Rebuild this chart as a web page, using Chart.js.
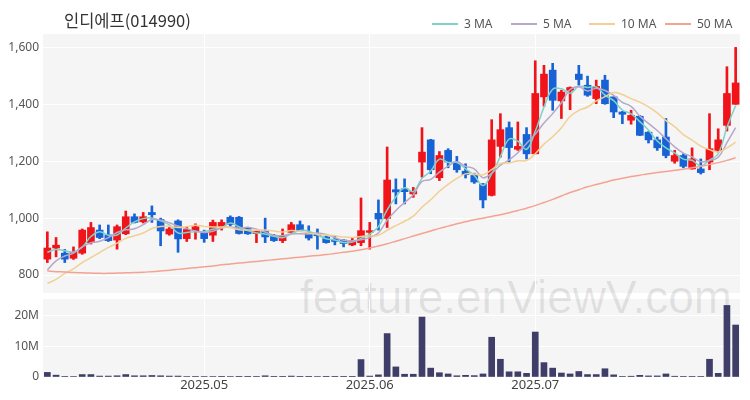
<!DOCTYPE html>
<html><head><meta charset="utf-8">
<script src="https://cdn.jsdelivr.net/npm/chart.js@4.4.1/dist/chart.umd.min.js"></script>
<style>
html,body{margin:0;padding:0;background:#fff;}
#wrap{position:relative;width:750px;height:400px;overflow:hidden;font-family:"Noto Sans CJK KR","Noto Sans",sans-serif;}
#title{position:absolute;left:64px;top:9px;font-size:16.5px;color:#333;line-height:22px;white-space:nowrap;}
.lg{position:absolute;top:16px;font-size:12px;color:#555;line-height:15px;white-space:nowrap;font-family:"Noto Sans",sans-serif;}
.lg i{display:inline-block;width:26px;height:2px;vertical-align:middle;margin-right:6px;position:relative;top:-1px;}
.bg{position:absolute;background:#f5f5f5;}
#wm{position:absolute;left:300px;top:267px;font-size:46px;color:rgba(0,0,0,0.09);font-family:"Liberation Sans",sans-serif;white-space:nowrap;line-height:60px;}
canvas{position:absolute;left:0;}
</style></head>
<body>
<div id="wrap">
  <div class="bg" id="bg1"></div>
  <div class="bg" id="bg2"></div>
  <div id="wm">feature.enViewV.com</div>
  <canvas id="price" width="750" height="296" style="top:0"></canvas>
  <canvas id="vol" width="750" height="104" style="top:296px"></canvas>
  <div id="title">인디에프(014990)</div>
  <div class="lg" style="left:432px"><i style="background:#7dd3c8"></i>3 MA</div>
  <div class="lg" style="left:511px"><i style="background:#b5a8c9"></i>5 MA</div>
  <div class="lg" style="left:589px"><i style="background:#f2cf94"></i>10 MA</div>
  <div class="lg" style="left:665px"><i style="background:#f5a391"></i>50 MA</div>
</div>
<script>
const dates = [
 "2025-04-07","2025-04-08","2025-04-09","2025-04-10","2025-04-11","2025-04-14","2025-04-15","2025-04-16","2025-04-17","2025-04-18",
 "2025-04-21","2025-04-22","2025-04-23","2025-04-24","2025-04-25","2025-04-28","2025-04-29","2025-04-30",
 "2025-05-02","2025-05-07","2025-05-08","2025-05-09","2025-05-12","2025-05-13","2025-05-14","2025-05-15","2025-05-16",
 "2025-05-19","2025-05-20","2025-05-21","2025-05-22","2025-05-23","2025-05-26","2025-05-27","2025-05-28","2025-05-29","2025-05-30",
 "2025-06-02","2025-06-04","2025-06-05","2025-06-09","2025-06-10","2025-06-11","2025-06-12","2025-06-13","2025-06-16","2025-06-17",
 "2025-06-18","2025-06-19","2025-06-20","2025-06-23","2025-06-24","2025-06-25","2025-06-26","2025-06-27","2025-06-30",
 "2025-07-01","2025-07-02","2025-07-03","2025-07-04","2025-07-07","2025-07-08","2025-07-09","2025-07-10","2025-07-11",
 "2025-07-14","2025-07-15","2025-07-16","2025-07-17","2025-07-18","2025-07-21","2025-07-22","2025-07-23","2025-07-24","2025-07-25",
 "2025-07-28","2025-07-29","2025-07-30","2025-07-31","2025-08-01"
];
const opens  = [856,895,877,859,877,914,958,941,923,945,1005,987,1020,995,944,990,928,956,950,940,970,1003,1003,965,946,953,940,921,950,977,950,944,934,926,923,906,914,950,1017,999,1100,1103,1085,1197,1275,1142,1238,1193,1165,1150,1120,1080,1252,1318,1242,1294,1226,1426,1520,1412,1449,1506,1467,1420,1485,1426,1373,1344,1358,1302,1275,1285,1200,1220,1173,1173,1197,1238,1326,1400];
const highs  = [952,932,890,899,962,985,976,976,976,1025,1015,1020,1043,1000,967,994,970,980,958,993,994,1008,1006,968,955,1000,943,962,985,990,973,962,937,938,925,930,1071,985,1064,1250,1138,1138,1108,1318,1277,1234,1244,1217,1191,1158,1122,1346,1367,1338,1338,1318,1553,1537,1544,1449,1461,1537,1499,1485,1502,1426,1375,1379,1361,1304,1285,1350,1238,1226,1247,1208,1367,1314,1532,1600];
const lows   = [844,864,844,855,873,909,928,918,891,942,983,983,985,903,940,880,918,926,915,918,958,973,944,943,914,914,918,914,950,953,923,891,912,906,899,903,903,891,958,967,1050,1050,1073,1144,1156,1132,1177,1161,1141,1122,1036,1078,1214,1197,1238,1208,1226,1393,1379,1350,1381,1467,1428,1402,1400,1353,1332,1330,1290,1264,1238,1212,1193,1177,1172,1155,1170,1232,1306,1400];
const closes = [895,905,856,881,958,967,932,921,970,1005,985,1005,1012,955,962,927,960,970,928,985,985,978,946,945,953,934,921,938,977,956,930,938,914,918,911,920,956,956,997,1134,1092,1093,1094,1232,1170,1220,1197,1170,1153,1127,1064,1275,1311,1248,1252,1226,1438,1506,1414,1443,1459,1487,1432,1463,1402,1373,1365,1361,1291,1275,1247,1220,1220,1182,1208,1160,1244,1275,1438,1475];
const volumesM = [1.5,0.6,0.2,0.15,0.8,0.8,0.3,0.3,0.4,0.8,0.4,0.4,0.5,0.4,0.3,0.3,0.15,0.2,0.15,0.15,0.1,0.15,0.1,0.1,0.2,0.4,0.1,0.1,0.3,0.1,0.1,0.15,0.1,0.1,0.1,0.1,5.7,0.3,0.7,14.2,3.3,0.9,0.9,19.6,2.9,1.4,1.0,0.4,0.55,0.45,1.0,13.0,5.8,1.7,1.7,1.2,14.7,4.7,2.9,1.3,1.0,1.8,0.8,0.8,2.7,0.7,0.2,0.25,0.55,0.35,0.35,1.0,0.25,0.2,0.2,0.2,5.8,1.2,23.4,17.0];
// moving-average values before a full window is available
const ma3Head = [880,890];
const ma5Head = [818,850,867,877];
const ma10Head = [771,785,806,822,844,861,879,897,912];
// 50-day moving average
const ma50 = [814,812,811,809,808,807,806,806,807,808,809,810,812,814,817,820,823,826,829,832,836,839,842,845,848,851,854,857,860,863,866,869,872,876,880,884,889,895,902,910,919,928,937,946,955,964,972,980,987,994,1000,1006,1012,1019,1027,1035,1044,1055,1066,1078,1090,1100,1110,1118,1126,1134,1140,1146,1151,1156,1160,1164,1168,1172,1177,1182,1188,1195,1203,1212];
const priceTicks = [800,1000,1200,1400,1600];
const volTicks = [0,10,20];

function sma(n, head){
  return closes.map((c,i)=>{
    if(i<n-1) return head[i];
    let s=0; for(let k=i-n+1;k<=i;k++) s+=closes[k];
    return Math.round(s/n*10)/10;
  });
}
const ma3 = sma(3, ma3Head), ma5 = sma(5, ma5Head), ma10 = sma(10, ma10Head);

const UP='#f0141a', DOWN='#1763d6';
const candleColors = closes.map((c,i)=> c>=opens[i]?UP:DOWN);
const bodies = opens.map((o,i)=>[o,closes[i]]);
const wicks = lows.map((l,i)=>[l,highs[i]]);
const monthStarts = dates.map((d,i)=> i>0 && i<dates.length-1 && d.slice(0,7)!==dates[i-1].slice(0,7) ? i : -1).filter(i=>i>=0);
const monthLabel = i => dates[i].slice(0,7).replace('-','.');

const yFont = {family:'"Noto Sans", sans-serif', size:12};
const xFont = {family:'"Noto Sans", sans-serif', size:13};
const xCommon = {
  offset:true,
  grid:{color:'#ffffff', lineWidth:1, drawTicks:false, offset:false},
  border:{display:false},
  afterBuildTicks: s => { s.ticks = monthStarts.map(v=>({value:v})); }
};
function lineDs(label, data, color){
  return {type:'line', label, data, borderColor:color, borderWidth:1.5, pointRadius:0, tension:0.4, fill:false, order:0};
}
function fixY(w){ return s => { s.width = w; s.paddingTop = 0; s.paddingBottom = 0; }; }

const priceChart = new Chart(document.getElementById('price'), {
  type:'bar',
  data:{labels:dates, datasets:[
    lineDs('50 MA', ma50, '#f5a391'),
    lineDs('10 MA', ma10, '#f2cf94'),
    lineDs('5 MA', ma5, '#b5a8c9'),
    lineDs('3 MA', ma3, '#7dd3c8'),
    {type:'bar', label:'body', data:bodies, backgroundColor:candleColors, barThickness:7, grouped:false, minBarLength:1, order:2},
    {type:'bar', label:'wick', data:wicks, backgroundColor:candleColors, barThickness:2, grouped:false, order:3}
  ]},
  options:{
    responsive:false, animation:false, devicePixelRatio:1,
    layout:{padding:{top:34,right:10,bottom:3,left:0}},
    plugins:{legend:{display:false}, tooltip:{enabled:false}},
    scales:{
      x:Object.assign({}, xCommon, {ticks:{display:false, autoSkip:false}, afterFit: s => { s.height = 0; s.paddingLeft=0; s.paddingRight=0; }}),
      y:{min:737, max:1647,
         afterBuildTicks: s => { s.ticks = priceTicks.map(v=>({value:v})); },
         afterFit: fixY(43),
         ticks:{font:yFont, color:'#555', padding:4, callback:v=>v.toLocaleString('en-US')},
         grid:{color:'#ffffff', drawTicks:false}, border:{display:false}}
    }
  }
});

const volChart = new Chart(document.getElementById('vol'), {
  type:'bar',
  data:{labels:dates, datasets:[
    {label:'Volume', data:volumesM, backgroundColor:'#3e3e68', barThickness:6}
  ]},
  options:{
    responsive:false, animation:false, devicePixelRatio:1,
    layout:{padding:{top:3,right:10,bottom:0,left:0}},
    plugins:{legend:{display:false}, tooltip:{enabled:false}},
    scales:{
      x:Object.assign({}, xCommon, {ticks:{font:xFont, color:'#444', padding:0, autoSkip:false, maxRotation:0, callback:(v)=>monthLabel(v)},
         afterFit: s => { s.height = 23; s.paddingLeft=0; s.paddingRight=0; }}),
      y:{min:0, max:25.5,
         afterBuildTicks: s => { s.ticks = volTicks.map(v=>({value:v})); },
         afterFit: fixY(43),
         ticks:{font:yFont, color:'#555', padding:4, callback:v=> v===0?'0':v+'M'},
         grid:{color:'#ffffff', drawTicks:false}, border:{display:false}}
    }
  }
});

function placeBg(id, chart, top){
  const a = chart.chartArea, el = document.getElementById(id);
  el.style.left = a.left+'px'; el.style.top = (a.top+top)+'px';
  el.style.width = (a.right-a.left)+'px'; el.style.height = (a.bottom-a.top)+'px';
}
placeBg('bg1', priceChart, 0);
placeBg('bg2', volChart, 296);
</script>
</body></html>
